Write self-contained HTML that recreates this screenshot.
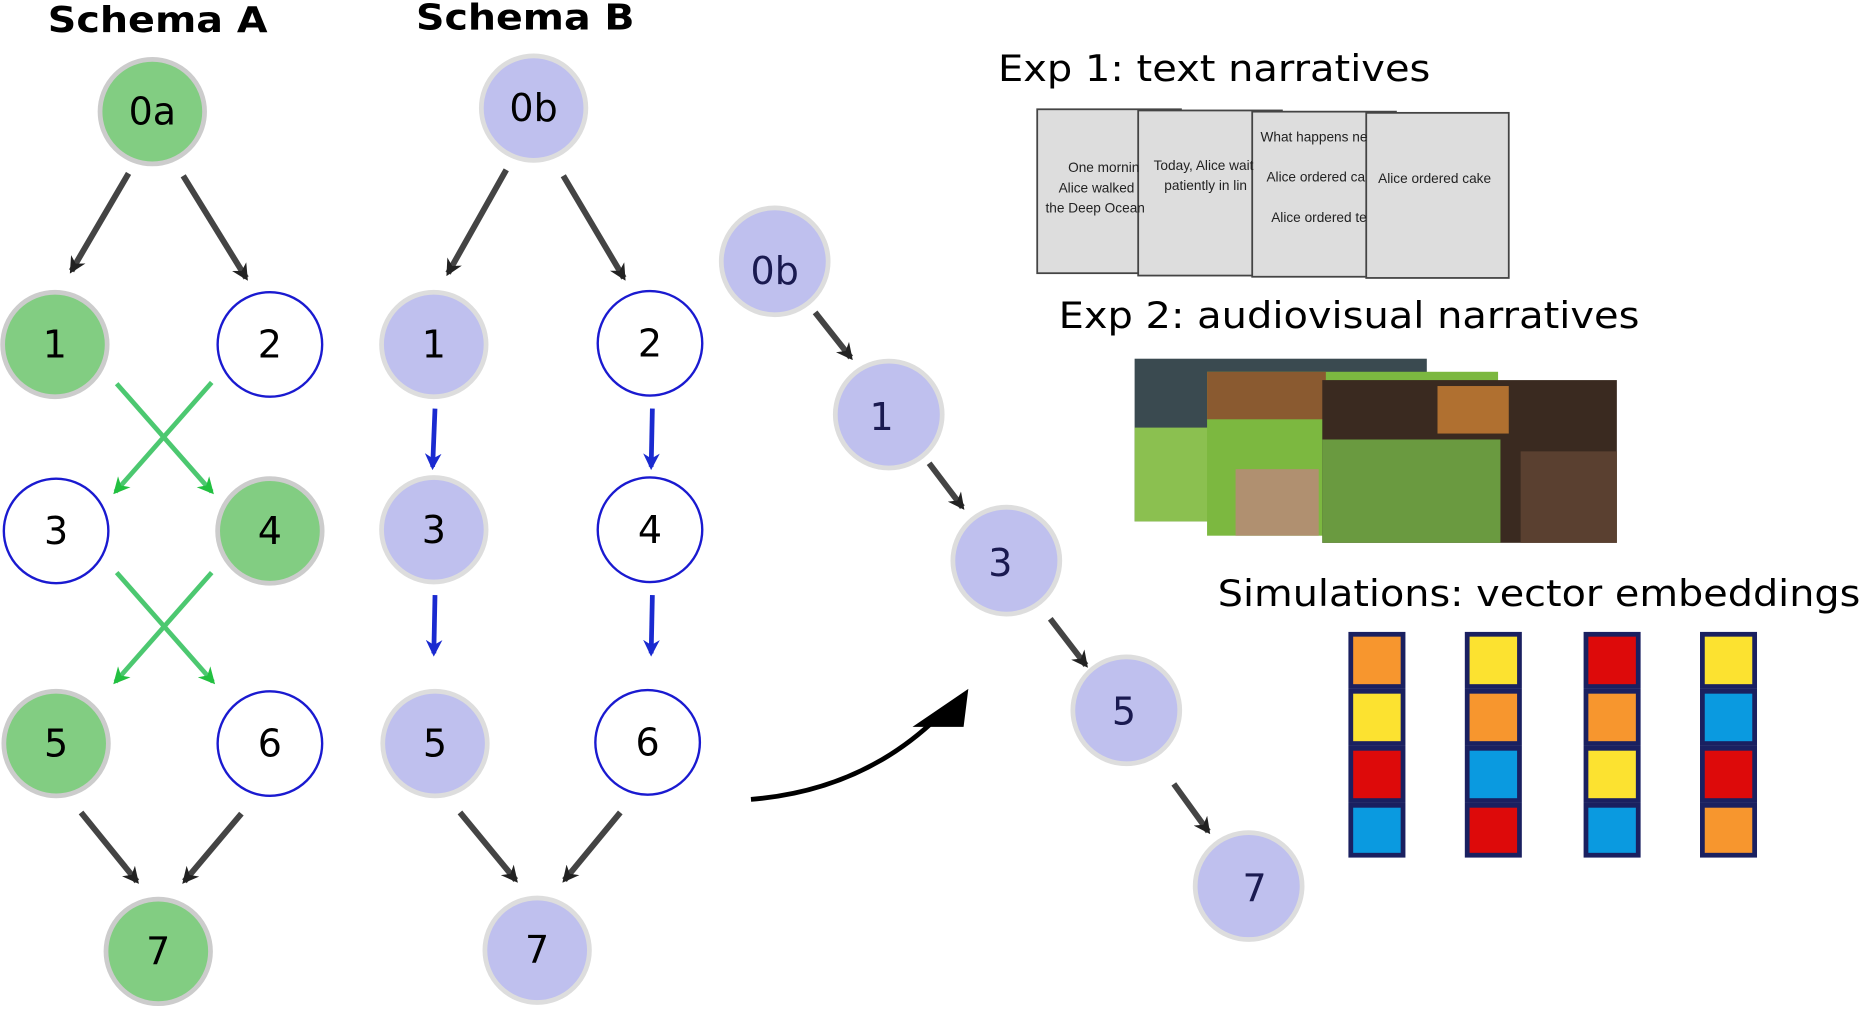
<!DOCTYPE html>
<html><head><style>body{margin:0;background:#fff}svg{display:block}</style></head>
<body>
<svg width="1863" height="1012" viewBox="0 0 1568 852" xmlns="http://www.w3.org/2000/svg" font-family="'DejaVu Sans','Liberation Sans',sans-serif">
<defs>
<marker id="a" viewBox="0 0 10 10" markerWidth="14" markerHeight="14" refX="8" refY="5" orient="auto" markerUnits="userSpaceOnUse"><path d="M0,0 L10,5 L0,10 L3,5 z" fill="#222"/></marker>
<marker id="ab" viewBox="0 0 10 10" markerWidth="14" markerHeight="14" refX="8" refY="5" orient="auto" markerUnits="userSpaceOnUse"><path d="M0,0 L10,5 L0,10 L3,5 z" fill="#1a2ad0"/></marker>
<marker id="agr" viewBox="0 0 10 10" markerWidth="14" markerHeight="14" refX="8" refY="5" orient="auto" markerUnits="userSpaceOnUse"><path d="M0,0 L10,5 L0,10 L3,5 z" fill="#22c040"/></marker>
</defs>
<text x="40" y="27" font-size="30" font-weight="bold" textLength="185" lengthAdjust="spacingAndGlyphs">Schema A</text>
<text x="350" y="25" font-size="30" font-weight="bold" textLength="184" lengthAdjust="spacingAndGlyphs">Schema B</text>
<g stroke="#444" stroke-width="5" fill="none">
<line x1="108" y1="146" x2="60" y2="228" marker-end="url(#a)"/>
<line x1="154" y1="148" x2="207" y2="234" marker-end="url(#a)"/>
<line x1="426" y1="143" x2="377" y2="230" marker-end="url(#a)"/>
<line x1="474" y1="148" x2="525" y2="234" marker-end="url(#a)"/>
<line x1="68" y1="684" x2="115" y2="742" marker-end="url(#a)"/>
<line x1="203" y1="685" x2="155" y2="742" marker-end="url(#a)"/>
<line x1="387" y1="684" x2="434" y2="741" marker-end="url(#a)"/>
<line x1="522" y1="684" x2="475" y2="741" marker-end="url(#a)"/>
<line x1="686" y1="263" x2="716" y2="301" marker-end="url(#a)"/>
<line x1="782" y1="390" x2="810" y2="427" marker-end="url(#a)"/>
<line x1="884" y1="521" x2="914" y2="560" marker-end="url(#a)"/>
<line x1="988" y1="660" x2="1017" y2="700" marker-end="url(#a)"/>
</g>
<g stroke="#4cc870" stroke-width="4">
<line x1="98" y1="323" x2="178" y2="414" marker-end="url(#agr)"/>
<line x1="178" y1="322" x2="97" y2="414" marker-end="url(#agr)"/>
<line x1="98" y1="482" x2="179" y2="574" marker-end="url(#agr)"/>
<line x1="178" y1="482" x2="97" y2="574" marker-end="url(#agr)"/>
</g>
<g stroke="#1a2ad0" stroke-width="4">
<line x1="366" y1="344" x2="364" y2="393" marker-end="url(#ab)"/>
<line x1="549" y1="344" x2="548" y2="393" marker-end="url(#ab)"/>
<line x1="366" y1="501" x2="365" y2="550" marker-end="url(#ab)"/>
<line x1="549" y1="501" x2="548" y2="550" marker-end="url(#ab)"/>
</g>
<path d="M632,673 Q730,665 795,598" stroke="#000" stroke-width="4" fill="none"/>
<path d="M768,612 L815,580 L811,612 z" fill="#000"/>
<g font-size="32" text-anchor="middle" dominant-baseline="central">
<g fill="#82cd82" stroke="#ccc" stroke-width="4">
<circle cx="128" cy="94" r="44"/><circle cx="46" cy="290" r="44"/><circle cx="227" cy="447" r="44"/><circle cx="47" cy="626" r="44"/><circle cx="133" cy="801" r="44"/></g>
<g fill="#fff" stroke="#1a1ad0" stroke-width="2">
<circle cx="227" cy="290" r="44"/><circle cx="47" cy="447" r="44"/><circle cx="227" cy="626" r="44"/>
<circle cx="547" cy="289" r="44"/><circle cx="547" cy="446" r="44"/><circle cx="545" cy="625" r="44"/></g>
<g fill="#bfc0ee" stroke="#ddd" stroke-width="4">
<circle cx="449" cy="91" r="44"/><circle cx="365" cy="290" r="44"/><circle cx="365" cy="446" r="44"/><circle cx="366" cy="626" r="44"/><circle cx="452" cy="800" r="44"/>
<circle cx="652" cy="220" r="45"/><circle cx="748" cy="349" r="45"/><circle cx="847" cy="472" r="45"/><circle cx="948" cy="598" r="45"/><circle cx="1051" cy="746" r="45"/></g>
<text x="128" y="94">0a</text><text x="46" y="290">1</text><text x="227" y="290">2</text><text x="47" y="447">3</text><text x="227" y="447">4</text><text x="47" y="626">5</text><text x="227" y="626">6</text><text x="133" y="801">7</text>
<text x="449" y="91">0b</text><text x="365" y="290">1</text><text x="547" y="289">2</text><text x="365" y="446">3</text><text x="547" y="446">4</text><text x="366" y="626">5</text><text x="545" y="625">6</text><text x="452" y="800">7</text>
<g fill="#1a1a50"><text x="652" y="228">0b</text><text x="742" y="351">1</text><text x="842" y="474">3</text><text x="946" y="599">5</text><text x="1056" y="748">7</text></g>
</g>
<text x="840" y="68" font-size="31" textLength="364" lengthAdjust="spacingAndGlyphs">Exp 1: text narratives</text>
<text x="891" y="276" font-size="31" textLength="489" lengthAdjust="spacingAndGlyphs">Exp 2: audiovisual narratives</text>
<text x="1025" y="510" font-size="31" textLength="541" lengthAdjust="spacingAndGlyphs">Simulations: vector embeddings</text>
<g fill="#ddd" stroke="#444" stroke-width="1.5">
<rect x="873" y="92" width="121" height="138"/><rect x="958" y="93" width="121" height="139"/><rect x="1054" y="94" width="121" height="139"/><rect x="1150" y="95" width="120" height="139"/>
</g>
<g font-size="11.5" fill="#222" font-family="'Liberation Sans Narrow','Liberation Sans',sans-serif">
<text x="899" y="145">One mornin</text><text x="891" y="162">Alice walked</text><text x="880" y="179">the Deep Ocean</text>
<text x="971" y="143">Today, Alice wait</text><text x="980" y="160">patiently in lin</text>
<text x="1061" y="119">What happens ne</text><text x="1066" y="153">Alice ordered ca</text><text x="1070" y="187">Alice ordered te</text>
<text x="1160" y="154">Alice  ordered cake</text>
</g>
<rect x="955" y="302" width="246" height="137" fill="#3a4a50"/>
<rect x="955" y="360" width="80" height="79" fill="#8bc050"/>
<rect x="1016" y="313" width="245" height="138" fill="#7cb840"/>
<rect x="1016" y="313" width="100" height="40" fill="#8a5a30"/>
<rect x="1040" y="395" width="70" height="56" fill="#b09070"/>
<rect x="1113" y="320" width="248" height="137" fill="#3a2a20"/>
<rect x="1113" y="370" width="150" height="87" fill="#6a9a40"/>
<rect x="1210" y="325" width="60" height="40" fill="#b07030"/>
<rect x="1280" y="380" width="81" height="77" fill="#5a4030"/>
<g stroke="#1a2060" stroke-width="4">
<rect x="1137" y="534" width="44" height="44" fill="#f7962e"/><rect x="1137" y="582" width="44" height="44" fill="#fce230"/><rect x="1137" y="630" width="44" height="44" fill="#dd0a0a"/><rect x="1137" y="678" width="44" height="42" fill="#0a9ae0"/>
<rect x="1235" y="534" width="44" height="44" fill="#fce230"/><rect x="1235" y="582" width="44" height="44" fill="#f7962e"/><rect x="1235" y="630" width="44" height="44" fill="#0a9ae0"/><rect x="1235" y="678" width="44" height="42" fill="#dd0a0a"/>
<rect x="1335" y="534" width="44" height="44" fill="#dd0a0a"/><rect x="1335" y="582" width="44" height="44" fill="#f7962e"/><rect x="1335" y="630" width="44" height="44" fill="#fce230"/><rect x="1335" y="678" width="44" height="42" fill="#0a9ae0"/>
<rect x="1433" y="534" width="44" height="44" fill="#fce230"/><rect x="1433" y="582" width="44" height="44" fill="#0a9ae0"/><rect x="1433" y="630" width="44" height="44" fill="#dd0a0a"/><rect x="1433" y="678" width="44" height="42" fill="#f7962e"/>
</g>
</svg>
</body></html>
